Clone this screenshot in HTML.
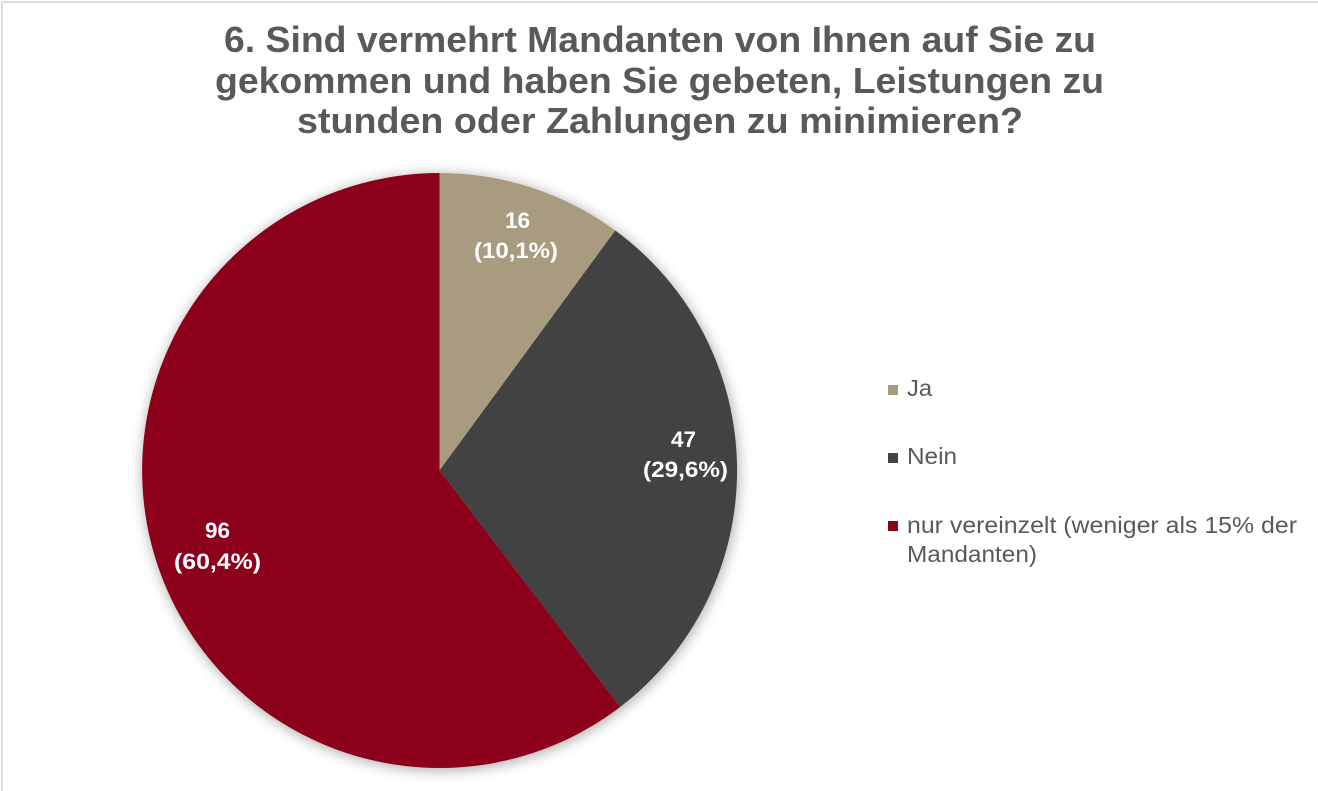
<!DOCTYPE html>
<html>
<head>
<meta charset="utf-8">
<style>
html,body{margin:0;padding:0;background:#fff;}
body{width:1318px;height:791px;overflow:hidden;}
svg{display:block;}
text{font-family:"Liberation Sans", Arial, sans-serif;}
</style>
</head>
<body>
<svg width="1318" height="791" viewBox="0 0 1318 791" xmlns="http://www.w3.org/2000/svg">
  <defs>
    <filter id="sh" x="-20%" y="-20%" width="140%" height="140%">
      <feGaussianBlur in="SourceAlpha" stdDeviation="7"/>
      <feOffset dx="1" dy="2" result="b"/>
      <feComponentTransfer><feFuncA type="linear" slope="0.35"/></feComponentTransfer>
      <feMerge><feMergeNode/><feMergeNode in="SourceGraphic"/></feMerge>
    </filter>
  </defs>
  <rect x="0" y="0" width="1318" height="791" fill="#fff"/>
  <line x1="2" y1="2" x2="1318" y2="2" stroke="#dcdcdc" stroke-width="2"/>
  <line x1="2" y1="2" x2="2" y2="791" stroke="#dcdcdc" stroke-width="2"/>

  <!-- Title -->
  <g fill="#595959" font-weight="bold" font-size="36">
    <text x="224" y="52" textLength="872" lengthAdjust="spacingAndGlyphs">6. Sind vermehrt Mandanten von Ihnen auf Sie zu</text>
    <text x="215" y="93" textLength="889" lengthAdjust="spacingAndGlyphs">gekommen und haben Sie gebeten, Leistungen zu</text>
    <text x="297" y="133" textLength="726" lengthAdjust="spacingAndGlyphs">stunden oder Zahlungen zu minimieren?</text>
  </g>

  <!-- Pie -->
  <g filter="url(#sh)">
    <path d="M439.5,470.5 L439.5,173 A297.5,297.5 0 0 1 615.3,230.5 Z" fill="#A89B7F"/>
    <path d="M439.5,470.5 L615.3,230.5 A297.5,297.5 0 0 1 620.1,707.0 Z" fill="#434343"/>
    <path d="M439.5,470.5 L620.1,707.0 A297.5,297.5 0 1 1 439.5,173 Z" fill="#8C001A"/>
  </g>

  <!-- Data labels -->
  <g fill="#fff" font-weight="bold" font-size="22">
    <text x="505" y="228" textLength="25" lengthAdjust="spacingAndGlyphs">16</text>
    <text x="474" y="258" textLength="84" lengthAdjust="spacingAndGlyphs">(10,1%)</text>
    <text x="671" y="447" textLength="25" lengthAdjust="spacingAndGlyphs">47</text>
    <text x="643" y="477" textLength="85" lengthAdjust="spacingAndGlyphs">(29,6%)</text>
    <text x="205" y="538" textLength="25" lengthAdjust="spacingAndGlyphs">96</text>
    <text x="174" y="569" textLength="87" lengthAdjust="spacingAndGlyphs">(60,4%)</text>
  </g>

  <!-- Legend -->
  <rect x="888" y="385" width="10" height="10" fill="#A89B7F"/>
  <rect x="888" y="453" width="10" height="10" fill="#434343"/>
  <rect x="888" y="521" width="10" height="10" fill="#8C001A"/>
  <g fill="#595959" font-size="23">
    <text x="907" y="396" textLength="25" lengthAdjust="spacingAndGlyphs">Ja</text>
    <text x="907" y="464" textLength="50" lengthAdjust="spacingAndGlyphs">Nein</text>
    <text x="907" y="533" textLength="390" lengthAdjust="spacingAndGlyphs">nur vereinzelt (weniger als 15% der</text>
    <text x="907" y="562" textLength="130" lengthAdjust="spacingAndGlyphs">Mandanten)</text>
  </g>
</svg>
</body>
</html>
